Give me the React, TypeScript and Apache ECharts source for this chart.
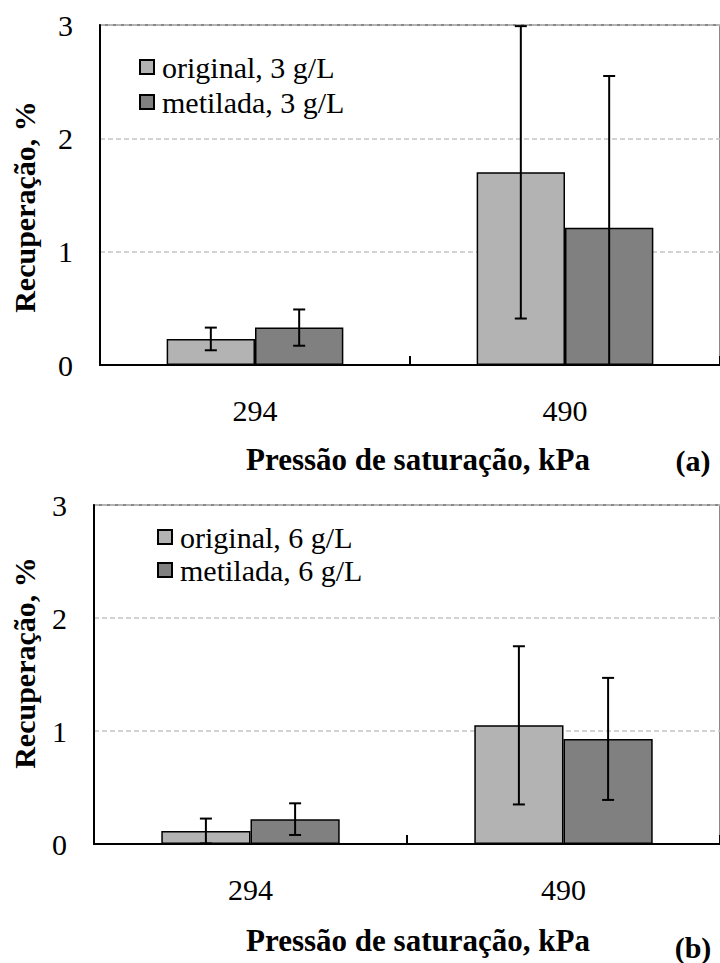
import React, { useEffect, useRef } from "react";
import * as echarts from "echarts";

// Saturation pressure categories (kPa)
const categories = ["294", "490"];

// Panel (a): 3 g/L
const original3 = [0.23, 1.7];
const original3Err = [0.1, 1.29];
const metilada3 = [0.33, 1.21];
const metilada3Err = [0.16, 1.34];

// Panel (b): 6 g/L
const original6 = [0.115, 1.05];
const original6Err = [0.11, 0.7];
const metilada6 = [0.22, 0.93];
const metilada6Err = [0.14, 0.54];

const yTicks = [0, 1, 2, 3];
const yMax = yTicks[yTicks.length - 1];

const FONT = "Liberation Serif";
const LIGHT = "#b3b3b3";
const DARK = "#808080";
const CAT_GAP = 0.43;

function errorRenderer(side: number) {
  return (params: any, api: any) => {
    const ci = api.value(0);
    const v = api.value(1);
    const e = api.value(2);
    const band = api.size([1, 0])[0];
    const bw = (band * (1 - CAT_GAP)) / 2;
    const x = api.coord([ci, v])[0] + (side * bw) / 2;
    const low = v - e;
    const yHi = api.coord([ci, v + e])[1];
    const yLo = api.coord([ci, Math.max(0, low)])[1];
    const style = { stroke: "#000", lineWidth: 2 };
    const children: any[] = [
      { type: "line", shape: { x1: x, y1: yHi, x2: x, y2: yLo }, style },
      { type: "line", shape: { x1: x - 6, y1: yHi, x2: x + 6, y2: yHi }, style },
    ];
    if (low >= 0) {
      children.push({ type: "line", shape: { x1: x - 6, y1: yLo, x2: x + 6, y2: yLo }, style });
    }
    return { type: "group", children };
  };
}

function panelAxes(gridIndex: number) {
  const xAxis = {
    gridIndex,
    type: "category",
    data: categories,
    axisLine: { show: true, lineStyle: { color: "#000", width: 2 } },
    axisTick: { show: true, inside: true, length: 9, lineStyle: { color: "#000", width: 2 } },
    axisLabel: { fontFamily: FONT, fontSize: 30, color: "#000", margin: 30 },
    splitLine: { show: false },
  };
  const yAxis = {
    gridIndex,
    type: "value",
    min: yTicks[0],
    max: yMax,
    interval: 1,
    axisLine: { show: true, lineStyle: { color: "#000", width: 2 } },
    axisTick: { show: false },
    axisLabel: { fontFamily: FONT, fontSize: 30, color: "#000", margin: 27 },
    splitLine: { show: true, lineStyle: { color: "#c4c4c4", width: 1.5, type: [5, 3] } },
  };
  return { xAxis, yAxis };
}

function barSeries(name: string, data: number[], color: string, xIdx: number, yIdx: number) {
  return {
    name,
    type: "bar",
    xAxisIndex: xIdx,
    yAxisIndex: yIdx,
    data,
    barGap: "0%",
    barCategoryGap: `${CAT_GAP * 100}%`,
    itemStyle: { color, borderColor: "#000", borderWidth: 1.5 },
    z: 2,
  };
}

function errSeries(vals: number[], errs: number[], side: number, xIdx: number, yIdx: number) {
  return {
    type: "custom",
    xAxisIndex: xIdx,
    yAxisIndex: yIdx,
    renderItem: errorRenderer(side),
    encode: { x: 0, y: 1 },
    data: vals.map((v, i) => [i, v, errs[i]]),
    z: 5,
    silent: true,
  };
}

export default function App() {
  const ref = useRef<HTMLDivElement>(null);

  useEffect(() => {
    document.body.style.margin = "0";
    if (!ref.current) return;
    const chart = echarts.init(ref.current, null, { renderer: "svg" });

    const a = panelAxes(0);
    const b = panelAxes(1);

    const legendText = { fontFamily: FONT, fontSize: 30, color: "#000", padding: [0, 0, 0, 3] };
    const titleStyle = (text: string, size: number) => ({
      text,
      fontFamily: FONT,
      fontWeight: "bold",
      fontSize: size,
      fill: "#000",
      align: "center",
      verticalAlign: "middle",
    });
    // grey frame on top; left and bottom edges are covered by the black axes
    const frame = { show: true, borderColor: "#8a8a8a", borderWidth: 2, backgroundColor: "transparent" };

    chart.setOption({
      animation: false,
      backgroundColor: "#fff",
      textStyle: { fontFamily: FONT },
      grid: [
        { left: 100, right: -2, top: 25, height: 340, ...frame },
        { left: 94, right: -2, top: 505, height: 339, ...frame },
      ],
      xAxis: [a.xAxis, b.xAxis],
      yAxis: [a.yAxis, b.yAxis],
      legend: [
        {
          data: ["original, 3 g/L", "metilada, 3 g/L"],
          orient: "vertical",
          left: 134,
          top: 47,
          icon: "rect",
          itemWidth: 14,
          itemHeight: 14,
          itemGap: 5,
          textStyle: legendText,
          selectedMode: false,
        },
        {
          data: ["original, 6 g/L", "metilada, 6 g/L"],
          orient: "vertical",
          left: 152,
          top: 517,
          icon: "rect",
          itemWidth: 14,
          itemHeight: 14,
          itemGap: 3,
          textStyle: legendText,
          selectedMode: false,
        },
      ],
      series: [
        barSeries("original, 3 g/L", original3, LIGHT, 0, 0),
        barSeries("metilada, 3 g/L", metilada3, DARK, 0, 0),
        errSeries(original3, original3Err, -1, 0, 0),
        errSeries(metilada3, metilada3Err, 1, 0, 0),
        barSeries("original, 6 g/L", original6, LIGHT, 1, 1),
        barSeries("metilada, 6 g/L", metilada6, DARK, 1, 1),
        errSeries(original6, original6Err, -1, 1, 1),
        errSeries(metilada6, metilada6Err, 1, 1, 1),
      ],
      graphic: [
        { type: "text", x: 24, y: 207, rotation: Math.PI / 2, style: titleStyle("Recuperação, %", 30) },
        { type: "text", x: 24, y: 663, rotation: Math.PI / 2, style: titleStyle("Recuperação, %", 30) },
        { type: "text", x: 418, y: 459, style: titleStyle("Pressão de saturação, kPa", 31) },
        { type: "text", x: 693, y: 460, style: titleStyle("(a)", 30) },
        { type: "text", x: 418, y: 940, style: titleStyle("Pressão de saturação, kPa", 31) },
        { type: "text", x: 693, y: 947, style: titleStyle("(b)", 30) },
      ],
    });

    return () => chart.dispose();
  }, []);

  return <div ref={ref} style={{ width: 720, height: 963 }} />;
}
